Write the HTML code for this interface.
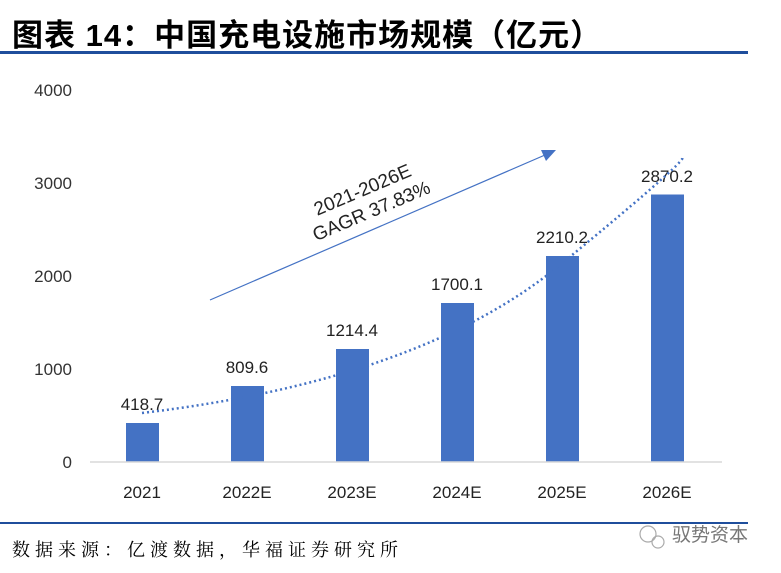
<!DOCTYPE html>
<html><head><meta charset="utf-8"><style>
body{margin:0;background:#fff;width:781px;height:568px;overflow:hidden}
</style></head><body>
<svg width="781" height="568" xmlns="http://www.w3.org/2000/svg" font-family="Liberation Sans, sans-serif">
<text x="12" y="46" font-size="31" font-weight="bold" letter-spacing="1" font-family="Liberation Sans, Noto Sans CJK SC, sans-serif" fill="#000">图表 14：中国充电设施市场规模（亿元）</text>
<rect x="0" y="51" width="748" height="3" fill="#1f4e9c"/>
<g font-size="17" fill="#333" text-anchor="end">
<text x="72" y="96">4000</text><text x="72" y="189">3000</text><text x="72" y="282">2000</text><text x="72" y="375">1000</text><text x="72" y="468">0</text>
</g>
<g fill="#4472c4">
<rect x="126" y="423" width="33" height="39"/>
<rect x="231" y="386" width="33" height="76"/>
<rect x="336" y="349" width="33" height="113"/>
<rect x="441" y="303" width="33" height="159"/>
<rect x="546" y="256" width="33" height="206"/>
<rect x="651" y="194.5" width="33" height="267.5"/>
</g>
<line x1="90" y1="462" x2="722" y2="462" stroke="#d9d9d9" stroke-width="1.5"/>
<g font-size="17" fill="#222" text-anchor="middle">
<text x="142" y="410">418.7</text><text x="247" y="373">809.6</text><text x="352" y="336">1214.4</text><text x="457" y="290">1700.1</text><text x="562" y="243">2210.2</text><text x="667" y="182">2870.2</text>
</g>
<g font-size="17" fill="#222" text-anchor="middle">
<text x="142" y="498">2021</text><text x="247" y="498">2022E</text><text x="352" y="498">2023E</text><text x="457" y="498">2024E</text><text x="562" y="498">2025E</text><text x="667" y="498">2026E</text>
</g>
<path d="M142,413 Q420,380 560,265 T680,158" fill="none" stroke="#4472c4" stroke-width="2.5" stroke-dasharray="2,3"/>
<line x1="210" y1="300" x2="545" y2="155" stroke="#4472c4" stroke-width="1.2"/>
<polygon points="556,150 541,150 546,161" fill="#4472c4"/>
<g transform="translate(368,203) rotate(-23)" font-size="19" fill="#222" text-anchor="middle">
<text x="0" y="-8">2021-2026E</text><text x="0" y="15">GAGR 37.83%</text>
</g>
<rect x="0" y="522" width="748" height="2" fill="#1f4e9c"/>
<text x="12" y="556" font-size="18" letter-spacing="5" font-family="Liberation Serif, Noto Serif CJK SC, serif" fill="#000">数据来源：亿渡数据，华福证券研究所</text>
<circle cx="648" cy="534" r="8" fill="none" stroke="#aaa" stroke-width="1.2"/>
<circle cx="658" cy="542" r="6" fill="none" stroke="#aaa" stroke-width="1.2"/>
<text x="672" y="541" font-size="19" font-family="Liberation Sans, Noto Sans CJK SC, sans-serif" fill="#777">驭势资本</text>
</svg>
</body></html>
